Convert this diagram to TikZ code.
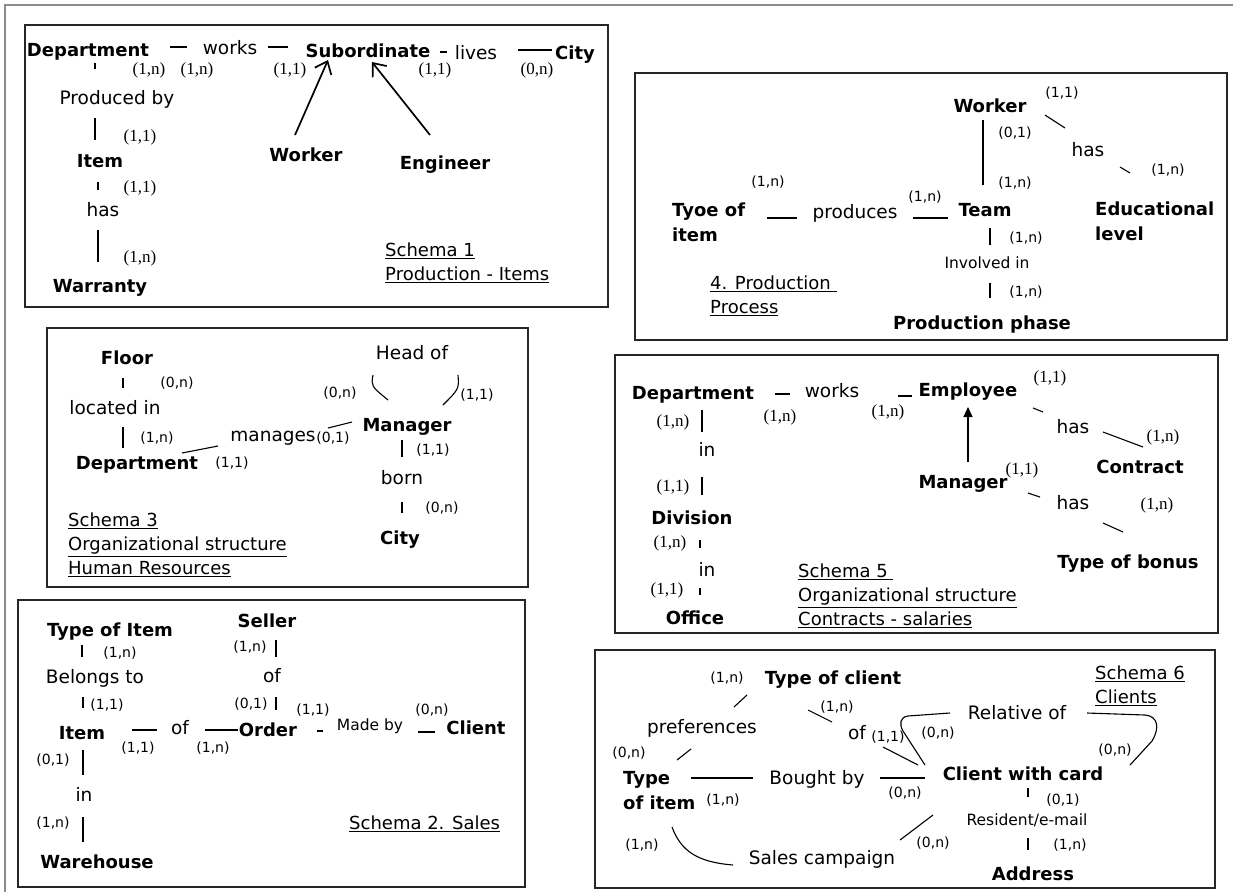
\documentclass[tikz,border=0pt]{standalone}
\usepackage{fontspec}
\setmainfont{DejaVu Sans}
\newfontfamily\serifcard{Liberation Serif}
\usetikzlibrary{arrows.meta}
\tikzset{
  ent/.style={font=\fontsize{18}{21}\selectfont\bfseries, inner sep=0pt, text height=13pt, text depth=0pt},
  rel/.style={font=\fontsize{18.5}{21}\selectfont, inner sep=0pt, text height=13pt, text depth=0pt},
  srel/.style={font=\fontsize{15.5}{18}\selectfont, inner sep=0pt, text height=11pt, text depth=0pt},
  entml/.style={font=\fontsize{18}{25}\selectfont\bfseries, align=left, anchor=west, inner sep=0pt},
  card/.style={font=\serifcard\fontsize{17}{19}\selectfont, inner sep=0pt, text height=8.5pt, text depth=0pt},
  scard/.style={font=\fontsize{14}{16}\selectfont, inner sep=0pt, text height=8.5pt, text depth=0pt},
  ttl/.style={font=\fontsize{18}{24}\selectfont, align=left, anchor=west, inner sep=0pt},
  box/.style={draw=black!85, line width=1.2pt},
  ln/.style={line width=1.1pt, black},
  isa/.style={line width=1.7pt, -{Straight Barb[length=11pt,width=18pt,line width=1.7pt]}},
  isb/.style={line width=1.3pt, -{Triangle[length=10pt,width=9pt]}},
}
\begin{document}
\begin{tikzpicture}[x=1pt,y=-1pt]
\useasboundingbox (0,0) rectangle (1233,892);
\draw[black!45, line width=1.4pt] (5,892) -- (5,5) -- (1233,5);

% ================= Schema 1 =================
\draw[box] (25,25) rectangle (608,307);
\node[ent] (s1dep) at (88,50) {Department};
\node[rel] (s1works) at (230,48) {works};
\node[ent] (s1sub) at (368,51) {Subordinate};
\node[rel] (s1lives) at (476,53) {lives};
\node[ent] (s1city) at (575,53) {City};
\draw[ln] (170,47) coordinate (s1d1a) -- (187,47) coordinate (s1d1b);
\draw[ln] (268,47) coordinate (s1d2a) -- (288,47) coordinate (s1d2b);
\draw[ln] (440,52) coordinate (s1d3a) -- (447,52) coordinate (s1d3b);
\draw[ln] (518,50) coordinate (s1d4a) -- (552,50) coordinate (s1d4b);
\node[card] (s1c1) at (149,70) {(1,n)};
\node[card] (s1c2) at (197,70) {(1,n)};
\node[card] (s1c3) at (290,70) {(1,1)};
\node[card] (s1c4) at (435,70) {(1,1)};
\node[card] (s1c5) at (537,70) {(0,n)};
\draw[ln] (95,63) coordinate (s1v1a) -- (95,69) coordinate (s1v1b);
\node[rel] (s1pb) at (117,98) {Produced by};
\draw[ln] (95,118) coordinate (s1v2a) -- (95,140) coordinate (s1v2b);
\node[card] (s1c6) at (140,137) {(1,1)};
\node[ent] (s1item) at (100,161) {Item};
\draw[ln] (98,182) coordinate (s1v3a) -- (98,190) coordinate (s1v3b);
\node[card] (s1c7) at (140,188) {(1,1)};
\node[rel] (s1has) at (103,210) {has};
\draw[ln] (98,230) coordinate (s1v4a) -- (98,262) coordinate (s1v4b);
\node[card] (s1c8) at (140,258) {(1,n)};
\node[ent] (s1war) at (100,286) {Warranty};
\node[ent] (s1work) at (306,155) {Worker};
\node[ent] (s1eng) at (445,163) {Engineer};
\draw[isa] (295,135) coordinate (s1a1) -- (328,60) coordinate (s1a2);
\draw[isa] (430,135) coordinate (s1a3) -- (372,62) coordinate (s1a4);
\node[ttl] (s1t) at (385,263) {\underline{Schema 1}\\\underline{Production - Items}};

% ================= Schema 4 =================
\draw[box] (635,73) rectangle (1227,340);
\node[entml] (s4type) at (672,222) {Tyoe of\\item};
\node[scard] (s4c1) at (768,182) {(1,n)};
\draw[ln] (767,218) coordinate (s4h1a) -- (797,218) coordinate (s4h1b);
\node[rel] (s4prod) at (855,212) {produces};
\draw[ln] (913,218) coordinate (s4h2a) -- (948,218) coordinate (s4h2b);
\node[scard] (s4c2) at (925,197) {(1,n)};
\node[ent] (s4team) at (985,210) {Team};
\node[ent] (s4work) at (990,106) {Worker};
\draw[ln] (983,120) coordinate (s4v1a) -- (983,185) coordinate (s4v1b);
\node[scard] (s4c3) at (1015,133) {(0,1)};
\node[scard] (s4c4) at (1015,183) {(1,n)};
\node[scard] (s4c5) at (1062,93) {(1,1)};
\draw[ln] (1045,115) coordinate (s4g1a) -- (1065,128) coordinate (s4g1b);
\node[rel] (s4has) at (1088,150) {has};
\draw[ln] (1120,167) coordinate (s4g2a) -- (1130,173) coordinate (s4g2b);
\node[scard] (s4c6) at (1168,170) {(1,n)};
\node[entml] (s4edu) at (1095,221) {Educational\\level};
\draw[ln] (990,228) coordinate (s4v2a) -- (990,245) coordinate (s4v2b);
\node[scard] (s4c7) at (1026,238) {(1,n)};
\node[srel] (s4inv) at (987,263) {Involved in};
\draw[ln] (990,283) coordinate (s4v3a) -- (990,298) coordinate (s4v3b);
\node[scard] (s4c8) at (1026,292) {(1,n)};
\node[ent] (s4phase) at (982,323) {Production phase};
\node[ttl] (s4t) at (710,296) {\underline{4. Production }\\\underline{Process}};

% ================= Schema 3 =================
\draw[box] (47,328) rectangle (528,587);
\node[ent] (s3floor) at (127,358) {Floor};
\draw[ln] (123,378) coordinate (s3v1a) -- (123,388) coordinate (s3v1b);
\node[scard] (s3c1) at (177,383) {(0,n)};
\node[rel] (s3loc) at (115,408) {located in};
\draw[ln] (123,427) coordinate (s3v2a) -- (123,448) coordinate (s3v2b);
\node[scard] (s3c2) at (157,438) {(1,n)};
\node[ent] (s3dep) at (137,463) {Department};
\draw[ln] (182,453) coordinate (s3g1a) -- (218,446) coordinate (s3g1b);
\node[rel] (s3man) at (273,435) {manages};
\node[scard] (s3c3) at (232,463) {(1,1)};
\node[scard] (s3c4) at (333,438) {(0,1)};
\draw[ln] (328,428) coordinate (s3g2a) -- (352,422) coordinate (s3g2b);
\node[ent] (s3mgr) at (407,425) {Manager};
\node[rel] (s3head) at (412,353) {Head of};
\draw[ln] (373,375) coordinate (s3k1a) .. controls (371,386) .. (388,400) coordinate (s3k1b);
\draw[ln] (458,375) coordinate (s3k2a) .. controls (459,389) .. (443,405) coordinate (s3k2b);
\node[scard] (s3c5) at (340,393) {(0,n)};
\node[scard] (s3c6) at (477,395) {(1,1)};
\draw[ln] (402,440) coordinate (s3v3a) -- (402,457) coordinate (s3v3b);
\node[scard] (s3c7) at (433,450) {(1,1)};
\node[rel] (s3born) at (402,478) {born};
\draw[ln] (402,502) coordinate (s3v4a) -- (402,513) coordinate (s3v4b);
\node[scard] (s3c8) at (442,508) {(0,n)};
\node[ent] (s3city) at (400,538) {City};
\node[ttl] (s3t) at (68,545) {\underline{Schema 3}\\\underline{Organizational structure}\\\underline{Human Resources}};

% ================= Schema 5 =================
\draw[box] (615,355) rectangle (1218,633);
\node[ent] (s5dep) at (693,393) {Department};
\draw[ln] (775,394) coordinate (s5d1a) -- (790,394) coordinate (s5d1b);
\node[rel] (s5works) at (832,391) {works};
\draw[ln] (898,396) coordinate (s5d2a) -- (912,396) coordinate (s5d2b);
\node[ent] (s5emp) at (968,390) {Employee};
\node[card] (s5c1) at (780,417) {(1,n)};
\node[card] (s5c2) at (888,412) {(1,n)};
\node[card] (s5c3) at (673,422) {(1,n)};
\draw[ln] (702,410) coordinate (s5v1a) -- (702,432) coordinate (s5v1b);
\node[rel] (s5in1) at (707,450) {in};
\node[card] (s5c4) at (673,487) {(1,1)};
\draw[ln] (702,477) coordinate (s5v2a) -- (702,495) coordinate (s5v2b);
\node[ent] (s5div) at (692,518) {Division};
\node[card] (s5c5) at (670,543) {(1,n)};
\draw[ln] (700,540) coordinate (s5v3a) -- (700,548) coordinate (s5v3b);
\node[rel] (s5in2) at (707,570) {in};
\node[card] (s5c6) at (667,590) {(1,1)};
\draw[ln] (700,588) coordinate (s5v4a) -- (700,595) coordinate (s5v4b);
\node[ent] (s5off) at (695,618) {Office};
\node[ttl] (s5t) at (798,596) {\underline{Schema 5 }\\\underline{Organizational structure}\\\underline{Contracts - salaries}};
\node[card] (s5c7) at (1050,378) {(1,1)};
\draw[ln] (1033,408) coordinate (s5g1a) -- (1043,412) coordinate (s5g1b);
\node[rel] (s5has1) at (1073,427) {has};
\draw[ln] (1103,432) coordinate (s5g2a) -- (1143,447) coordinate (s5g2b);
\node[card] (s5c8) at (1163,437) {(1,n)};
\node[ent] (s5con) at (1140,467) {Contract};
\draw[isb] (968,462) coordinate (s5a1) -- (968,407) coordinate (s5a2);
\node[ent] (s5mgr) at (963,482) {Manager};
\node[card] (s5c9) at (1022,470) {(1,1)};
\draw[ln] (1028,493) coordinate (s5g3a) -- (1040,497) coordinate (s5g3b);
\node[rel] (s5has2) at (1073,503) {has};
\draw[ln] (1103,523) coordinate (s5g4a) -- (1123,532) coordinate (s5g4b);
\node[card] (s5c10) at (1157,505) {(1,n)};
\node[ent] (s5bon) at (1128,562) {Type of bonus};

% ================= Schema 2 =================
\draw[box] (18,600) rectangle (525,887);
\node[ent] (s2toi) at (110,630) {Type of Item};
\draw[ln] (82,645) coordinate (s2v1a) -- (82,657) coordinate (s2v1b);
\node[scard] (s2c1) at (120,653) {(1,n)};
\node[rel] (s2bel) at (95,677) {Belongs to};
\draw[ln] (83,697) coordinate (s2v2a) -- (83,708) coordinate (s2v2b);
\node[scard] (s2c2) at (107,705) {(1,1)};
\node[ent] (s2item) at (82,733) {Item};
\draw[ln] (132,730) coordinate (s2h1a) -- (157,730) coordinate (s2h1b);
\node[rel] (s2of1) at (180,728) {of};
\draw[ln] (205,730) coordinate (s2h2a) -- (238,730) coordinate (s2h2b);
\node[ent] (s2ord) at (268,730) {Order};
\node[scard] (s2c3) at (138,748) {(1,1)};
\node[scard] (s2c4) at (213,748) {(1,n)};
\node[ent] (s2sel) at (267,621) {Seller};
\node[scard] (s2c5) at (250,647) {(1,n)};
\draw[ln] (276,640) coordinate (s2v3a) -- (276,657) coordinate (s2v3b);
\node[rel] (s2of2) at (272,676) {of};
\node[scard] (s2c6) at (251,704) {(0,1)};
\draw[ln] (276,697) coordinate (s2v4a) -- (276,710) coordinate (s2v4b);
\node[scard] (s2c7) at (313,710) {(1,1)};
\draw[ln] (317,731) coordinate (s2h3a) -- (323,731) coordinate (s2h3b);
\node[srel] (s2made) at (370,725) {Made by};
\node[scard] (s2c8) at (432,710) {(0,n)};
\draw[ln] (418,732) coordinate (s2h4a) -- (435,732) coordinate (s2h4b);
\node[ent] (s2cli) at (476,728) {Client};
\node[scard] (s2c9) at (53,760) {(0,1)};
\draw[ln] (83,750) coordinate (s2v5a) -- (83,775) coordinate (s2v5b);
\node[rel] (s2in) at (84,795) {in};
\node[scard] (s2c10) at (53,823) {(1,n)};
\draw[ln] (83,817) coordinate (s2v6a) -- (83,842) coordinate (s2v6b);
\node[ent] (s2war) at (97,862) {Warehouse};
\node[ttl] (s2t) at (349,824) {\underline{Schema 2. Sales}};

% ================= Schema 6 =================
\draw[box] (595,650) rectangle (1215,888);
\node[ent] (s6toc) at (833,678) {Type of client};
\node[scard] (s6c1) at (727,678) {(1,n)};
\draw[ln] (747,695) coordinate (s6g1a) -- (734,707) coordinate (s6g1b);
\node[rel] (s6pref) at (702,727) {preferences};
\draw[ln] (691,749) coordinate (s6g2a) -- (677,760) coordinate (s6g2b);
\node[scard] (s6c2) at (629,753) {(0,n)};
\node[entml] (s6toi) at (623,791) {Type\\of item};
\node[scard] (s6c3) at (723,800) {(1,n)};
\draw[ln] (691,778) coordinate (s6h1a) -- (753,778) coordinate (s6h1b);
\node[rel] (s6bought) at (817,778) {Bought by};
\draw[ln] (880,778) coordinate (s6h2a) -- (925,778) coordinate (s6h2b);
\node[scard] (s6c4) at (905,793) {(0,n)};
\node[scard] (s6c5) at (837,707) {(1,n)};
\draw[ln] (808,710) coordinate (s6g3a) -- (832,722) coordinate (s6g3b);
\node[rel] (s6of) at (857,733) {of};
\node[scard] (s6c6) at (888,737) {(1,1)};
\draw[ln] (883,747) coordinate (s6g4a) -- (918,765) coordinate (s6g4b);
\node[ent] (s6cwc) at (1023,774) {Client with card};
\node[rel] (s6rel) at (1017,713) {Relative of};
\draw[ln] (950,713) coordinate (s6k1a) -- (908,716) .. controls (900,717) and (899,724) .. (903,731) -- (925,765) coordinate (s6k1b);
\draw[ln] (1087,713) coordinate (s6k2a) -- (1145,715) .. controls (1158,716) and (1160,728) .. (1152,741) -- (1130,765) coordinate (s6k2b);
\node[scard] (s6c7) at (938,733) {(0,n)};
\node[scard] (s6c8) at (1115,750) {(0,n)};
\node[ttl] (s6t) at (1095,686) {\underline{Schema 6}\\\underline{Clients}};
\draw[ln] (1028,788) coordinate (s6v1a) -- (1028,797) coordinate (s6v1b);
\node[scard] (s6c9) at (1063,800) {(0,1)};
\node[srel] (s6res) at (1027,820) {Resident/e-mail};
\draw[ln] (1028,838) coordinate (s6v2a) -- (1028,850) coordinate (s6v2b);
\node[scard] (s6c10) at (1070,845) {(1,n)};
\node[ent] (s6addr) at (1033,874) {Address};
\draw[ln] (900,840) coordinate (s6g5a) -- (933,815) coordinate (s6g5b);
\node[scard] (s6c11) at (933,843) {(0,n)};
\node[rel] (s6sales) at (822,858) {Sales campaign};
\draw[ln] (672,827) coordinate (s6k3a) .. controls (681,851) and (697,862) .. (733,865) coordinate (s6k3b);
\node[scard] (s6c12) at (642,845) {(1,n)};
\end{tikzpicture}
\end{document}
